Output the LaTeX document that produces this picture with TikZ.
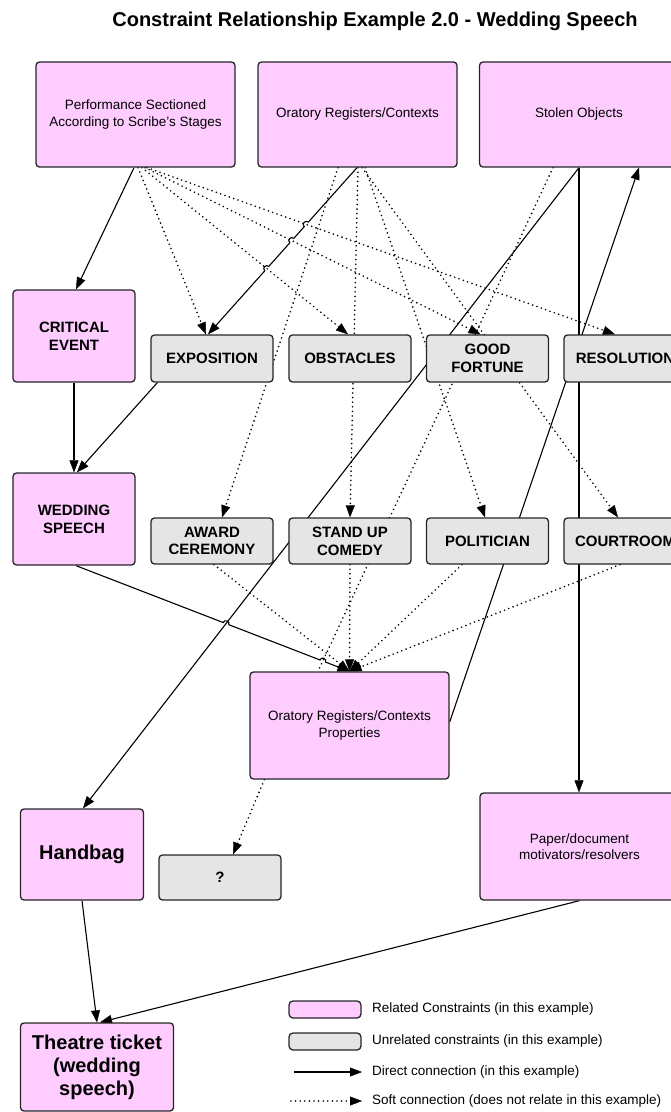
\documentclass[tikz,border=0pt]{standalone}
\usepackage{fontspec}
\setmainfont{Liberation Sans}
\usetikzlibrary{arrows.meta,calc,intersections}
\definecolor{pinkbox}{RGB}{255,204,255}
\definecolor{graybox}{RGB}{229,229,229}
\definecolor{edgecol}{RGB}{38,38,38}
\pgfdeclarelayer{bg}
\pgfsetlayers{bg,main}
\begin{document}
\begin{tikzpicture}[x=1pt,y=-1pt,
  box/.style={draw=edgecol, line width=1.3pt, rounded corners=3.5pt, inner sep=0pt, align=center, text=black},
  rel/.style={box, fill=pinkbox},
  unrel/.style={box, fill=graybox},
  wide/.style={minimum width=199pt, minimum height=105pt},
  tall/.style={minimum width=122pt, minimum height=92pt},
  flat/.style={minimum width=122pt, minimum height=47pt},
  txt/.style={font=\fontsize{13.5}{16.3}\selectfont},
  lbl/.style={font=\bfseries\fontsize{15}{17.8}\selectfont},
  big/.style={font=\bfseries\fontsize{20}{23}\selectfont},
  arrowtip/.style={-{Triangle[length=12pt,width=9pt,line width=0.4pt]}},
  direct/.style={draw=black, line width=1.1pt, arrowtip},
  soft/.style={draw=black, line width=1.8pt, line cap=round, dash pattern=on 0pt off 4.6pt, arrowtip},
  legtext/.style={txt, anchor=west, inner sep=0pt},
]
\useasboundingbox (0,0) rectangle (670,1112);

\node[font=\bfseries\fontsize{20}{24}\selectfont] (title) at (375,21) {Constraint Relationship Example 2.0 - Wedding Speech};

% row 1
\node[rel,wide,txt] (perf) at (135.5,114.5) {Performance Sectioned\\According to Scribe's Stages};
\node[rel,wide,txt] (orat) at (357.5,114.5) {Oratory Registers/Contexts};
\node[rel,wide,txt] (stolen) at (579,114.5) {Stolen Objects};

% row 2
\node[rel,tall,lbl] (ce) at (74,336) {CRITICAL\\EVENT};
\node[unrel,flat,lbl] (expo) at (212,358.5) {EXPOSITION};
\node[unrel,flat,lbl] (obst) at (350,358.5) {OBSTACLES};
\node[unrel,flat,lbl] (gf) at (487.5,358.5) {GOOD\\FORTUNE};
\node[unrel,flat,lbl] (res) at (625,358.5) {RESOLUTION};

% row 3
\node[rel,tall,lbl] (ws) at (74,519) {WEDDING\\SPEECH};
\node[unrel,flat,lbl,minimum height=46pt] (award) at (212,541) {AWARD\\CEREMONY};
\node[unrel,flat,lbl,minimum height=46pt] (standup) at (350,541) {STAND UP\\COMEDY};
\node[unrel,flat,lbl,minimum height=46pt] (pol) at (487.5,541) {POLITICIAN};
\node[unrel,flat,lbl,minimum height=46pt] (court) at (625,541) {COURTROOM};

% lower part
\node[rel,wide,txt,minimum height=107pt] (props) at (349.5,725.5) {Oratory Registers/Contexts\\Properties};
\node[rel,big,minimum width=123pt,minimum height=91pt] (handbag) at (82,854.5) {Handbag};
\node[unrel,lbl,minimum width=122pt,minimum height=45pt] (q) at (220,877.5) {?};
\node[rel,wide,txt,minimum height=107pt] (paper) at (579.5,846.5) {Paper/document\\motivators/resolvers};
\node[rel,big,minimum width=153pt,minimum height=88pt] (ticket) at (97,1067) {Theatre ticket\\(wedding\\speech)};

% legend
\node[rel,minimum width=72pt,minimum height=17pt,rounded corners=4pt] (lg1) at (325,1009.5) {};
\node[legtext] (lt1) at (372,1009) {Related Constraints (in this example)};
\node[unrel,minimum width=72pt,minimum height=17pt,rounded corners=4pt] (lg2) at (325,1041.5) {};
\node[legtext] (lt2) at (372,1041) {Unrelated constraints (in this example)};
\coordinate (d1) at (294,1072);
\coordinate (d2) at (362,1072);
\node[legtext] (lt3) at (372,1072) {Direct connection (in this example)};
\coordinate (s1) at (291,1101);
\coordinate (s2) at (362,1101);
\node[legtext] (lt4) at (372,1101) {Soft connection (does not relate in this example)};

\begin{pgfonlayer}{bg}
% direct connections
\draw[direct] ($(perf.south)+(-1.5,0)$) -- ($(ce.north)+(2,0)$);
\draw[direct, name path=sh] (stolen.south) -- ($(handbag.north)+(1,0)$);
\draw[direct] (stolen.south) -- (stolen.south |- paper.north);
\draw[direct] ($(props.east)+(0,-3.5)$) -- ($(stolen.south)+(60,0)$);
\draw[direct] (ce.south) -- (ws.north);
\draw[direct] ($(expo.south west)+(7,0)$) -- ($(ws.north)+(3,0)$);
\draw[direct] (handbag.south) -- (ticket.north);
\draw[direct] (paper.south) -- ($(ticket.north)+(3,0)$);

% soft connections
\draw[soft] ($(perf.south)+(2.5,0)$) -- ($(expo.north)+(-6,0)$);
\draw[soft, name path=pobs] ($(perf.south)+(6.5,0)$) -- ($(obst.north)+(-2,0)$);
\draw[soft, name path=pgf] ($(perf.south)+(9.5,0)$) -- ($(gf.north)+(-7,0)$);
\draw[soft, name path=pres] ($(perf.south)+(11.5,0)$) -- ($(res.north)+(-10,0)$);
\draw[soft] ($(orat.south)+(-19.5,0)$) -- ($(award.north)+(10,0)$);
\draw[soft] ($(orat.south)+(0.5,0)$) -- (standup.north);
\draw[soft] ($(orat.south)+(4.5,0)$) -- ($(court.north)+(-7,0)$);
\draw[soft] ($(orat.south)+(7.5,0)$) -- ($(pol.north)+(-2.5,0)$);
\draw[soft, -, name path=sp] ($(stolen.south)+(-26,0)$) -- ($(props.north)+(-31.5,0)$);
\draw[soft] ($(award.south)+(2,0)$) -- (props.north);
\draw[soft] (standup.south) -- (props.north);
\draw[soft] ($(pol.south)+(-25.5,0)$) -- (props.north);
\draw[soft] ($(court.south)+(-5,0)$) -- (props.north);
\draw[soft] ($(props.south west)+(15,0)$) -- ($(q.north)+(13,0)$);

% Oratory -> Exposition with line hops
\coordinate (a1) at ($(orat.south)+(-0.5,0)$);
\coordinate (b1) at ($(expo.north)+(-4,0)$);
\path[name path=l1] (a1) -- (b1);
\path[name intersections={of=l1 and pres, by=x1}];
\path[name intersections={of=l1 and pgf, by=x2}];
\path[name intersections={of=l1 and pobs, by=x3}];
\draw[direct] let \p1=($(b1)-(a1)$), \n1={atan2(\y1,\x1)} in
  (a1) -- ($(x1)!3pt!(a1)$) arc[start angle=\n1+180, delta angle=180, radius=3pt]
  -- ($(x2)!3pt!(a1)$) arc[start angle=\n1+180, delta angle=180, radius=3pt]
  -- ($(x3)!3pt!(a1)$) arc[start angle=\n1+180, delta angle=180, radius=3pt]
  -- (b1);

% Wedding speech -> Properties with line hops
\coordinate (a2) at ($(ws.south)+(2,0)$);
\coordinate (b2) at (props.north);
\path[name path=l2] (a2) -- (b2);
\path[name intersections={of=l2 and sh, by=y1}];
\path[name intersections={of=l2 and sp, by=y2}];
\draw[direct] let \p1=($(b2)-(a2)$), \n1={atan2(\y1,\x1)} in
  (a2) -- ($(y1)!3pt!(a2)$) arc[start angle=\n1+180, delta angle=-180, radius=3pt]
  -- ($(y2)!3pt!(a2)$) arc[start angle=\n1+180, delta angle=-180, radius=3pt]
  -- (b2);

% legend lines
\draw[direct] (d1) -- (d2);
\draw[soft] (s1) -- (s2);
\end{pgfonlayer}
\end{tikzpicture}
\end{document}
